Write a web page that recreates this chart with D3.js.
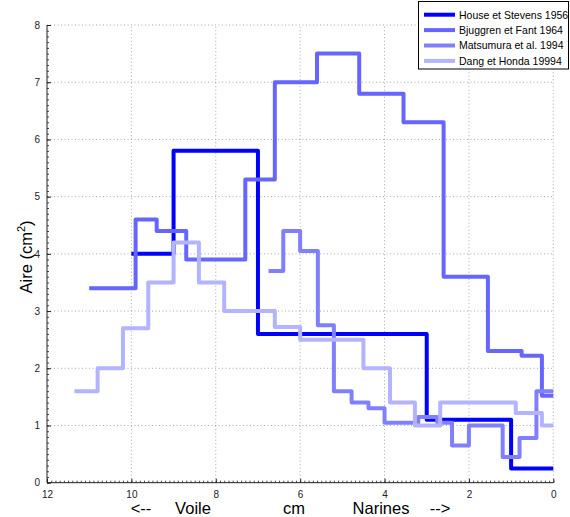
<!DOCTYPE html>
<html>
<head>
<meta charset="utf-8">
<script src="https://cdn.jsdelivr.net/npm/d3@7"></script>
<style>
  html, body { margin: 0; padding: 0; background: #fff; }
  svg { display: block; font-family: "Liberation Sans", Arial, sans-serif; }
</style>
</head>
<body>
<svg id="chart" width="570" height="517"></svg>
<script>
// ---- Data (x in cm, values in cm^2) ----
const seriesNames = ["House et Stevens 1956", "Bjuggren et Fant 1964", "Matsumura et al. 1994", "Dang et Honda 19994"];
const seriesColors = ["#0000ff", "#6666ff", "#8080ff", "#b3b3ff"];

const houseEdges  = [10, 9, 7, 3, 1, 0];
const houseValues = [4.0, 5.8, 2.6, 1.1, 0.25];

const bjuggrenEdges  = [11.0, 9.9, 9.4, 8.7, 7.3, 6.6, 5.6, 4.6, 3.55, 2.6, 1.55, 0.75, 0.27, 0];
const bjuggrenValues = [3.4, 4.6, 4.4, 3.9, 5.3, 7.0, 7.5, 6.8, 6.3, 3.6, 2.3, 2.22, 1.52];

const matsumuraEdges  = [6.75, 6.4, 6.0, 5.58, 5.2, 4.78, 4.38, 4.0, 3.2, 2.75, 2.4, 2.0, 1.2, 0.8, 0.4, 0];
const matsumuraValues = [3.7, 4.4, 4.05, 2.75, 1.6, 1.4, 1.3, 1.05, 1.15, 1.05, 0.65, 1.0, 0.45, 0.78, 1.6];

const dangEdges  = [11.35, 10.8, 10.2, 9.6, 9.0, 8.4, 7.8, 6.6, 6.0, 4.5, 3.87, 3.28, 2.68, 0.89, 0.27, 0];
const dangValues = [1.6, 2.0, 2.7, 3.5, 4.2, 3.5, 3.0, 2.72, 2.5, 2.0, 1.4, 1.0, 1.4, 1.22, 1.0];

const xTicks = [12, 10, 8, 6, 4, 2, 0];
const yTicks = [0, 1, 2, 3, 4, 5, 6, 7, 8];
const xLabelWords = ["<--", "Voile", "cm", "Narines", "-->"];

const allSeries = [
  { edges: houseEdges, values: houseValues },
  { edges: bjuggrenEdges, values: bjuggrenValues },
  { edges: matsumuraEdges, values: matsumuraValues },
  { edges: dangEdges, values: dangValues }
];

// ---- Layout ----
const svg = d3.select("#chart");
const x = d3.scaleLinear().domain([12, 0]).range([47, 553.3]);
const y = d3.scaleLinear().domain([0, 8]).range([482.7, 25]);

// grid
const grid = svg.append("g").attr("stroke", "#a8a8a8").attr("stroke-width", 1)
  .attr("stroke-dasharray", "1,2.5");
xTicks.filter(t => t !== 12).forEach(t => {
  grid.append("line").attr("x1", x(t)).attr("x2", x(t)).attr("y1", y(0)).attr("y2", y(8));
});
yTicks.filter(t => t !== 0).forEach(t => {
  grid.append("line").attr("x1", x(12)).attr("x2", x(0)).attr("y1", y(t)).attr("y2", y(t));
});

// axes (MATLAB-like inward ticks)
const xAxis = d3.axisBottom(x).tickValues(xTicks).tickSize(-4).tickPadding(8).tickFormat(d3.format("d"));
const yAxis = d3.axisLeft(y).tickValues(yTicks).tickSize(-4).tickPadding(7).tickFormat(d3.format("d"));

const xMinor = d3.axisBottom(x).tickValues(d3.range(0, 12.001, 0.1)).tickSize(-2).tickFormat("");
const yMinor = d3.axisLeft(y).tickValues(d3.range(0, 8.001, 0.1)).tickSize(-2).tickFormat("");

svg.append("g").attr("transform", `translate(0,${y(0)})`).call(xMinor)
  .call(g => g.select(".domain").remove())
  .call(g => g.selectAll("line").attr("stroke", "#444"));
svg.append("g").attr("transform", `translate(${x(12)},0)`).call(yMinor)
  .call(g => g.select(".domain").remove())
  .call(g => g.selectAll("line").attr("stroke", "#444"));

const gx = svg.append("g").attr("transform", `translate(0,${y(0)})`).call(xAxis);
gx.select(".domain").attr("stroke", "#222").attr("d", `M${x(12)},0H${x(0)}`);
gx.selectAll("line").attr("stroke", "#222");
gx.selectAll("text").attr("font-size", 10).attr("fill", "#222").attr("font-family", "Liberation Sans, Arial, sans-serif");

const gy = svg.append("g").attr("transform", `translate(${x(12)},0)`).call(yAxis);
gy.select(".domain").attr("stroke", "#222").attr("d", `M0,${y(0)}V${y(8)}`);
gy.selectAll("line").attr("stroke", "#222");
gy.selectAll("text").attr("font-size", 10).attr("fill", "#222").attr("font-family", "Liberation Sans, Arial, sans-serif");

// series
const line = d3.line().x(d => x(d[0])).y(d => y(d[1])).curve(d3.curveStepAfter);
allSeries.forEach((s, i) => {
  const pts = s.edges.map((e, k) => [e, s.values[Math.min(k, s.values.length - 1)]]);
  svg.append("path").datum(pts)
    .attr("d", line)
    .attr("fill", "none")
    .attr("stroke", seriesColors[i])
    .attr("stroke-width", 4)
    .attr("stroke-linejoin", "round");
});

// y label
const yl = svg.append("text")
  .attr("transform", `translate(32,257) rotate(-90)`)
  .attr("text-anchor", "middle")
  .attr("font-size", 16.5)
  .attr("fill", "#000");
yl.append("tspan").text("Aire (cm");
yl.append("tspan").attr("font-size", 11).attr("dy", -7).text("2");
yl.append("tspan").attr("dy", 7).text(")");

// x label words
const xLabelCenters = [141, 193, 294, 381, 440];
xLabelWords.forEach((w, i) => {
  svg.append("text").attr("x", xLabelCenters[i]).attr("y", 514)
    .attr("text-anchor", "middle").attr("font-size", 16.5).attr("fill", "#000")
    .text(w);
});

// legend
const lg = svg.append("g");
lg.append("rect").attr("x", 418.5).attr("y", 1.5).attr("width", 150).attr("height", 67.5)
  .attr("fill", "#fff").attr("stroke", "#000").attr("stroke-width", 1);
seriesNames.forEach((n, i) => {
  const yy = 14.7 + i * 15.4;
  lg.append("line").attr("x1", 424).attr("x2", 455).attr("y1", yy).attr("y2", yy)
    .attr("stroke", seriesColors[i]).attr("stroke-width", 4);
  lg.append("text").attr("x", 459).attr("y", yy + 3.8).attr("font-size", 10.5).attr("fill", "#000").text(n);
});
</script>
</body>
</html>
